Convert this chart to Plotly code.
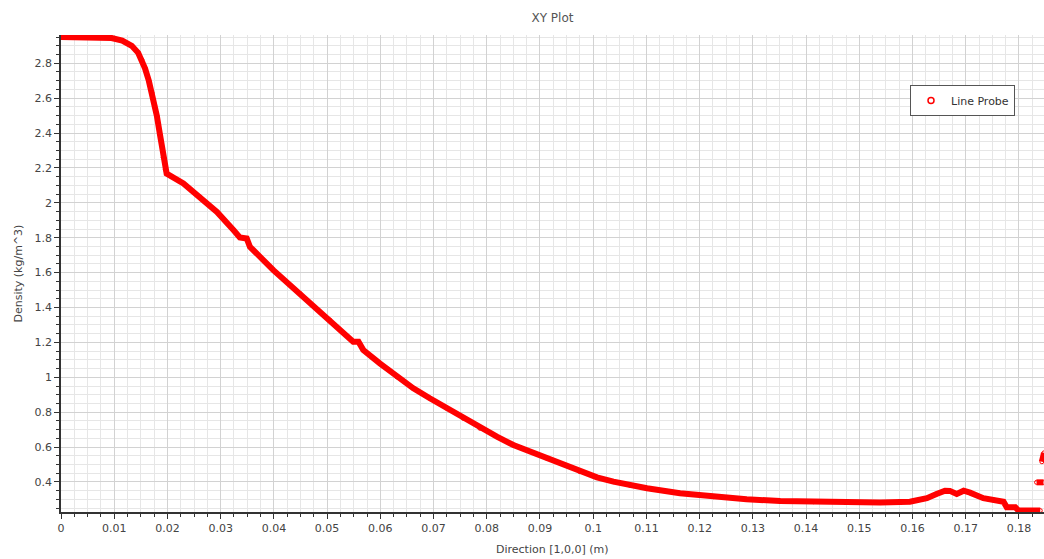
import plotly.graph_objects as go

# Line probe readings (x in m, density in kg/m^3); None separates disjoint segments
x_pos = [0.0, 0.002, 0.004, 0.006, 0.008, 0.0095, 0.0115, 0.0133, 0.0145, 0.0152,
         0.0158, 0.0165, 0.0171, 0.0176, 0.0180, 0.0186, 0.0192, 0.0196, 0.01985,
         0.0230, 0.0261, 0.0293, 0.0324, 0.0336, 0.0349, 0.0355, 0.0399, 0.0449,
         0.0505, 0.0518, 0.0549, 0.0559, 0.0568, 0.0599, 0.0631, 0.0662, 0.0693,
         0.0725, 0.0756, 0.0787, 0.0819, 0.0850, 0.0881, 0.0913, 0.0975, 0.1007,
         0.1038, 0.1069, 0.1101, 0.1163, 0.1226, 0.1288, 0.1351, 0.1414, 0.1476,
         0.1539, 0.1595, 0.1627, 0.1645, 0.1661, 0.1670, 0.1683, 0.1696, 0.1708,
         0.1733, 0.1752, 0.1771, 0.1777, 0.1793, 0.1799, 0.1840,
         None, 0.1833, 0.1846,
         None, 0.1843, 0.1847]
density = [2.95, 2.95, 2.95, 2.95, 2.95, 2.945, 2.93, 2.90, 2.86, 2.82,
           2.77, 2.70, 2.63, 2.56, 2.50, 2.39, 2.26, 2.19, 2.168,
           2.111, 2.034, 1.948, 1.844, 1.802, 1.796, 1.748, 1.614, 1.481,
           1.328, 1.290, 1.204, 1.204, 1.156, 1.080, 1.003, 0.937, 0.880,
           0.822, 0.765, 0.708, 0.660, 0.612, 0.574, 0.536, 0.459, 0.427,
           0.402, 0.381, 0.364, 0.336, 0.316, 0.301, 0.291, 0.287, 0.284,
           0.282, 0.287, 0.307, 0.331, 0.350, 0.349, 0.331, 0.350, 0.339,
           0.307, 0.297, 0.287, 0.255, 0.255, 0.236, 0.236,
           None, 0.398, 0.398,
           None, 0.516, 0.567]

x_range = [0.0, 0.1847]
y_range = [0.228, 2.962]
series_name = "Line Probe"

RED = "#ff0000"
FONT = "DejaVu Sans"

fig = go.Figure()
fig.add_trace(go.Scatter(
    x=x_pos, y=density, mode="lines+markers", connectgaps=False,
    line=dict(color=RED, width=6),
    marker=dict(symbol="circle-open", size=4, color=RED, line=dict(width=1, color=RED)),
    showlegend=False, hoverinfo="x+y",
))
fig.add_trace(go.Scatter(
    x=[None], y=[None], mode="markers", name=series_name,
    marker=dict(symbol="circle-open", size=6, color=RED, line=dict(width=1.5, color=RED)),
))

axis_common = dict(
    showline=True, linecolor="#333333", linewidth=1.5, mirror=False,
    ticks="outside", ticklen=5, tickwidth=1, tickcolor="#333333",
    showgrid=True, gridcolor="#d2d2d2", gridwidth=1, zeroline=False,
    tickfont=dict(family=FONT, size=11, color="#444444"),
)

fig.update_layout(
    width=1044, height=559,
    margin=dict(l=61, r=0, t=35, b=47),
    paper_bgcolor="white", plot_bgcolor="white",
    title=dict(text="XY Plot", x=0.5, xref="paper", y=1 - 18 / 559, yanchor="middle",
               font=dict(family=FONT, size=12, color="#555555")),
    xaxis=dict(range=x_range, tick0=0, dtick=0.01,
               minor=dict(dtick=0.0025, ticks="outside", ticklen=3, tickcolor="#333333",
                          showgrid=True, gridcolor="#e6e6e6", gridwidth=1),
               **axis_common),
    yaxis=dict(range=y_range, tick0=0, dtick=0.2,
               minor=dict(dtick=0.05, ticks="outside", ticklen=3, tickcolor="#333333",
                          showgrid=True, gridcolor="#e6e6e6", gridwidth=1),
               **axis_common),
    showlegend=True,
    legend=dict(x=(910 - 61) / 983, y=(512 - 85) / 477, xanchor="left", yanchor="top",
                bgcolor="white", bordercolor="#555555", borderwidth=1,
                font=dict(family=FONT, size=11, color="#333333"),
                itemwidth=30, tracegroupgap=0),
    annotations=[
        dict(text="Direction [1,0,0] (m)", xref="paper", yref="paper", x=0.5,
             y=(512 - 549) / 477, xanchor="center", yanchor="middle", showarrow=False,
             font=dict(family=FONT, size=11, color="#444444")),
        dict(text="Density (kg/m^3)", xref="paper", yref="paper", x=(18 - 61) / 983,
             y=0.5, xanchor="center", yanchor="middle", textangle=-90, showarrow=False,
             font=dict(family=FONT, size=11, color="#444444")),
    ],
)

fig.write_html("out.html",
               config={"displayModeBar": False},
               post_script="document.body.style.margin='0px';document.body.style.overflow='hidden';")
